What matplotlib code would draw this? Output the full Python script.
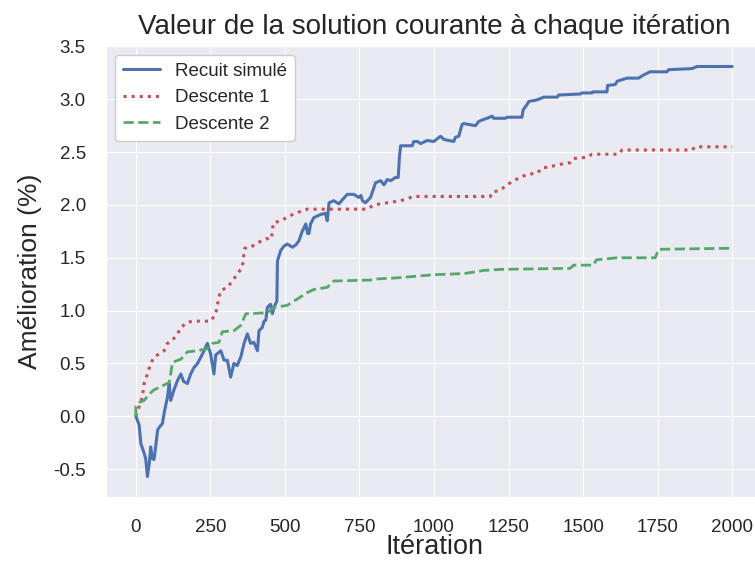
import matplotlib
matplotlib.use("Agg")
import matplotlib.pyplot as plt
import seaborn as sns

# iteration / improvement (%) for each method
recuit_x = [0, 11, 17, 28, 33, 39, 45, 50, 55, 61, 66, 73, 80, 89, 95, 106, 112, 117, 128, 140,
            151, 160, 173, 184, 195, 207, 218, 229, 240, 251, 262, 268, 285, 296, 307, 318, 329, 340,
            352, 363, 374, 385, 396, 408, 413, 424, 430, 436, 441, 452, 458, 463, 473, 475, 486, 497,
            508, 525, 536, 547, 558, 570, 576, 581, 586, 597, 620, 636, 642, 648, 664, 681, 690, 709,
            731, 748, 755, 760, 770, 787, 798, 804, 821, 832, 837, 843, 855, 871, 880, 884, 888, 927,
            932, 945, 955, 977, 999, 1022, 1033, 1066, 1072, 1083, 1094, 1100, 1139, 1150, 1167, 1178,
            1195, 1200, 1240, 1245, 1295, 1299, 1312, 1318, 1340, 1351, 1368, 1413, 1418, 1491, 1496,
            1530, 1533, 1580, 1582, 1608, 1614, 1625, 1647, 1686, 1703, 1725, 1781, 1787, 1865, 1882,
            2000]
recuit_y = [0.00, -0.08, -0.26, -0.35, -0.40, -0.57, -0.45, -0.29, -0.40, -0.41, -0.30, -0.13, -0.10,
            -0.07, 0.03, 0.18, 0.31, 0.15, 0.25, 0.34, 0.40, 0.33, 0.31, 0.40, 0.46, 0.50, 0.56, 0.62,
            0.69, 0.59, 0.40, 0.58, 0.62, 0.53, 0.53, 0.37, 0.50, 0.48, 0.56, 0.69, 0.78, 0.69, 0.70,
            0.62, 0.81, 0.84, 0.90, 0.91, 1.03, 1.06, 0.97, 1.03, 1.09, 1.47, 1.57, 1.61, 1.63, 1.60,
            1.62, 1.66, 1.75, 1.82, 1.73, 1.73, 1.82, 1.88, 1.91, 1.92, 1.85, 2.02, 2.04, 2.01, 2.04,
            2.10, 2.10, 2.07, 2.09, 2.04, 2.02, 2.07, 2.16, 2.21, 2.23, 2.19, 2.21, 2.24, 2.23, 2.26,
            2.26, 2.45, 2.56, 2.56, 2.60, 2.60, 2.58, 2.61, 2.60, 2.65, 2.62, 2.60, 2.64, 2.65, 2.76,
            2.77, 2.75, 2.79, 2.81, 2.82, 2.84, 2.82, 2.82, 2.83, 2.83, 2.90, 2.95, 2.98, 2.99, 3.00,
            3.02, 3.02, 3.04, 3.05, 3.06, 3.06, 3.07, 3.07, 3.13, 3.14, 3.17, 3.18, 3.20, 3.20, 3.23,
            3.26, 3.26, 3.28, 3.29, 3.31, 3.31]

desc1_x = [0, 11, 22, 28, 39, 50, 61, 78, 95, 106, 123, 140, 151, 173, 195, 251, 268, 279, 285, 307,
           324, 341, 357, 363, 365, 385, 408, 436, 455, 461, 486, 519, 553, 575, 776, 798, 843, 888,
           921, 927, 1189, 1195, 1223, 1245, 1267, 1290, 1312, 1346, 1362, 1390, 1413, 1457, 1468,
           1513, 1530, 1619, 1631, 1865, 1876, 2000]
desc1_y = [0.00, 0.09, 0.18, 0.31, 0.40, 0.50, 0.56, 0.59, 0.62, 0.69, 0.72, 0.78, 0.84, 0.89, 0.90,
           0.90, 0.97, 1.13, 1.19, 1.22, 1.28, 1.35, 1.41, 1.54, 1.59, 1.60, 1.64, 1.68, 1.68, 1.83,
           1.85, 1.90, 1.94, 1.96, 1.96, 2.00, 2.02, 2.04, 2.07, 2.08, 2.08, 2.12, 2.14, 2.19, 2.23,
           2.26, 2.29, 2.30, 2.35, 2.36, 2.38, 2.40, 2.44, 2.45, 2.48, 2.48, 2.52, 2.52, 2.55, 2.55]

desc2_x = [0, 0, 11, 28, 45, 61, 84, 112, 117, 123, 151, 173, 207, 240, 257, 279, 290, 329, 352, 369,
           441, 463, 508, 525, 553, 575, 597, 642, 664, 798, 810, 877, 1000, 1100, 1167, 1223, 1457,
           1468, 1535, 1544, 1614, 1742, 1753, 2000]
desc2_y = [0.00, 0.09, 0.13, 0.15, 0.21, 0.25, 0.28, 0.32, 0.40, 0.51, 0.54, 0.61, 0.62, 0.64, 0.69,
           0.70, 0.80, 0.81, 0.86, 0.97, 0.98, 1.03, 1.05, 1.08, 1.13, 1.17, 1.20, 1.22, 1.28, 1.29,
           1.30, 1.31, 1.34, 1.35, 1.38, 1.39, 1.40, 1.43, 1.43, 1.48, 1.50, 1.50, 1.58, 1.59]

x_ticks = [0, 250, 500, 750, 1000, 1250, 1500, 1750, 2000]
y_ticks = [-0.5, 0.0, 0.5, 1.0, 1.5, 2.0, 2.5, 3.0, 3.5]

sns.set_style("darkgrid", {"grid.linewidth": 1.3})
plt.rcParams["font.family"] = ["Liberation Sans", "DejaVu Sans"]
plt.rcParams["axes.unicode_minus"] = False

fig = plt.figure(figsize=(7.55, 5.63), dpi=100)
ax = fig.add_axes([106 / 755, 66 / 563, 656 / 755, 451 / 563])

ax.plot(recuit_x, recuit_y, color="#4C72B0", lw=2.2, label="Recuit simulé")
ax.plot(desc1_x, desc1_y, color="#C44E52", lw=2.2, ls=":", label="Descente 1")
ax.plot(desc2_x, desc2_y, color="#55A868", lw=2, ls="--", label="Descente 2")

ax.set_xticks(x_ticks)
ax.set_yticks(y_ticks)
ax.tick_params(axis="y", labelsize=13.5, pad=11)
ax.tick_params(axis="x", labelsize=13.5, pad=12)

ax.set_title("Valeur de la solution courante à chaque itération", fontsize=20, pad=9)
ax.set_xlabel("Itération", fontsize=19.5, labelpad=-1)
ax.set_ylabel("Amélioration (%)", fontsize=19, labelpad=8)

ax.legend(loc="upper left", fontsize=13.5, frameon=True, facecolor="white", framealpha=1,
          borderaxespad=0.5)

fig.savefig("out.png", dpi=100)
